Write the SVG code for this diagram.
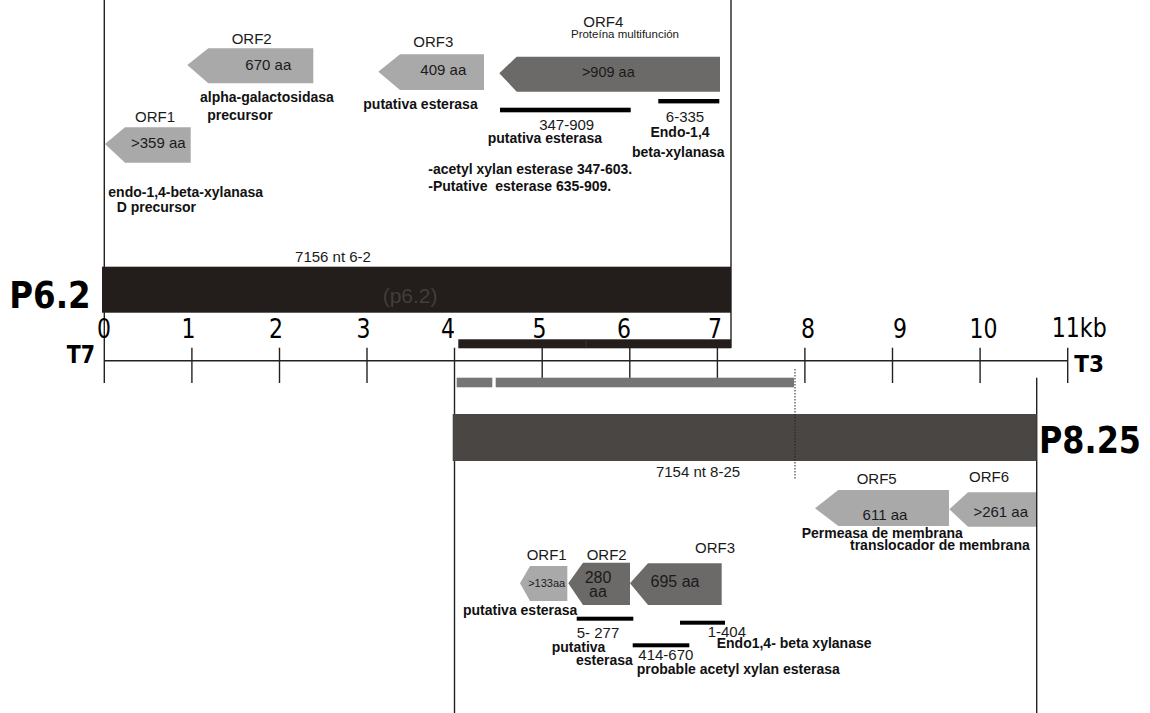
<svg xmlns="http://www.w3.org/2000/svg" width="1150" height="713" viewBox="0 0 1150 713">
<style>
.r{font-family:"Liberation Sans",Arial,sans-serif;fill:#1a1a1a}
.b{font-family:"Liberation Sans",Arial,sans-serif;font-weight:bold;fill:#111}
.big{font-family:"DejaVu Sans",Verdana,sans-serif;font-weight:bold;fill:#000}
.ax{font-family:"DejaVu Sans",Verdana,sans-serif;fill:#000;font-size:26px}
.m{text-anchor:middle}
.ln{stroke:#222;stroke-width:1.4;fill:none}
.light{fill:#a9a9a9}
.dark{fill:#6c6a69}
.bar{fill:#000}
</style>
<rect width="1150" height="713" fill="#fff"/>

<g id="connectors">
  <line class="ln" x1="104.3" y1="0" x2="104.3" y2="383"/>
  <line class="ln" x1="731" y1="0" x2="731" y2="348"/>
  <line class="ln" x1="104.3" y1="360.7" x2="1068" y2="360.7"/>
  <line class="ln" x1="454.5" y1="347.7" x2="454.5" y2="713"/>
  <line class="ln" x1="1036.7" y1="377.7" x2="1036.7" y2="713"/>
  <g class="ln">
    <line x1="191.9" y1="347.7" x2="191.9" y2="383"/>
    <line x1="279.5" y1="347.7" x2="279.5" y2="383"/>
    <line x1="367" y1="347.7" x2="367" y2="383"/>
    <line x1="542.2" y1="347.7" x2="542.2" y2="383"/>
    <line x1="629.8" y1="347.7" x2="629.8" y2="383"/>
    <line x1="717.4" y1="347.7" x2="717.4" y2="383"/>
    <line x1="804.9" y1="347.7" x2="804.9" y2="383"/>
    <line x1="892.5" y1="347.7" x2="892.5" y2="383"/>
    <line x1="980.1" y1="347.7" x2="980.1" y2="383"/>
    <line x1="1067.7" y1="347.7" x2="1067.7" y2="383"/>
  </g>
</g>

<g id="clone-p62">
  <rect x="102" y="266.7" width="629" height="46" fill="#231d1b"/>
  <text class="r" x="333" y="262" font-size="15" text-anchor="middle">7156 nt 6-2</text>
  <text x="382.7" y="303.3" font-size="21" font-family="Liberation Sans,Arial,sans-serif" fill="#443c3a">(p6.2)</text>
  <text class="big" x="9.3" y="308.3" font-size="38" textLength="81.4" lengthAdjust="spacingAndGlyphs">P6.2</text>
</g>

<g id="axis-labels">
  <text class="ax m" x="104" y="338.3" textLength="14" lengthAdjust="spacingAndGlyphs">0</text>
  <text class="ax m" x="188.5" y="338.3" textLength="14" lengthAdjust="spacingAndGlyphs">1</text>
  <text class="ax m" x="276" y="338.3" textLength="14" lengthAdjust="spacingAndGlyphs">2</text>
  <text class="ax m" x="363.5" y="338.3" textLength="14" lengthAdjust="spacingAndGlyphs">3</text>
  <text class="ax m" x="448" y="338.3" textLength="14" lengthAdjust="spacingAndGlyphs">4</text>
  <text class="ax m" x="539.5" y="338.3" textLength="14" lengthAdjust="spacingAndGlyphs">5</text>
  <text class="ax m" x="624" y="338.3" textLength="14" lengthAdjust="spacingAndGlyphs">6</text>
  <text class="ax m" x="715" y="338.3" textLength="14" lengthAdjust="spacingAndGlyphs">7</text>
  <text class="ax m" x="808" y="338.3" textLength="14" lengthAdjust="spacingAndGlyphs">8</text>
  <text class="ax m" x="900" y="338.3" textLength="14" lengthAdjust="spacingAndGlyphs">9</text>
  <text class="ax m" x="983.5" y="338.3" textLength="28" lengthAdjust="spacingAndGlyphs">10</text>
  <text class="ax" x="1051.7" y="337" textLength="55" lengthAdjust="spacingAndGlyphs">11kb</text>
  <text class="big" x="66.7" y="363.3" font-size="24" textLength="28.3" lengthAdjust="spacingAndGlyphs">T7</text>
  <text class="big" x="1074.3" y="371.7" font-size="23" textLength="29.7" lengthAdjust="spacingAndGlyphs">T3</text>
</g>

<g id="seq-bars">
  <rect x="458.3" y="339.3" width="272.7" height="9" fill="#231d1b"/>
  <line x1="586" y1="339.3" x2="586" y2="348.3" stroke="#3d3836" stroke-width="0.8"/>
  <rect x="456.7" y="377.7" width="35.6" height="9.6" fill="#777574"/>
  <rect x="495.7" y="377.7" width="298.3" height="9.6" fill="#777574"/>
</g>

<g id="clone-p825">
  <rect x="452.7" y="414" width="584" height="47" fill="#4a4644"/>
  <line x1="795" y1="369" x2="795" y2="479" stroke="#222" stroke-width="1" stroke-dasharray="1.5,1.5"/>
  <text class="r" x="698" y="477" font-size="15" text-anchor="middle">7154 nt 8-25</text>
  <text class="big" x="1039" y="453.3" font-size="37" textLength="102" lengthAdjust="spacingAndGlyphs">P8.25</text>
</g>

<g id="p62-orf1">
  <polygon class="light" points="105,144 125,127.3 190.7,127.3 190.7,162.7 125,162.7"/>
  <text class="r m" x="155" y="121.7" font-size="15">ORF1</text>
  <text class="r m" x="158.3" y="148.3" font-size="15">&gt;359 aa</text>
  <text class="b" x="108.3" y="196.7" font-size="14">endo-1,4-beta-xylanasa</text>
  <text class="b" x="116.7" y="211.7" font-size="14">D precursor</text>
</g>

<g id="p62-orf2">
  <polygon class="light" points="187.3,65 208.3,48.3 313.3,48.3 313.3,83.3 208.3,83.3"/>
  <text class="r m" x="251.7" y="44" font-size="15">ORF2</text>
  <text class="r m" x="268.3" y="70" font-size="15">670 aa</text>
  <text class="b" x="200" y="101.7" font-size="14">alpha-galactosidasa</text>
  <text class="b" x="207.3" y="120" font-size="14">precursor</text>
</g>

<g id="p62-orf3">
  <polygon class="light" points="378.3,71.7 400,54.3 484,54.3 484,90 400,90"/>
  <text class="r m" x="433.3" y="47.3" font-size="15">ORF3</text>
  <text class="r m" x="443.3" y="75" font-size="15">409 aa</text>
  <text class="b" x="363.3" y="109.3" font-size="14">putativa esterasa</text>
</g>

<g id="p62-orf4">
  <polygon class="dark" points="499.3,73.3 516.7,56.7 720,56.7 720,91.7 516.7,91.7"/>
  <text class="r m" x="603.3" y="26.5" font-size="15">ORF4</text>
  <text class="r m" x="625" y="38" font-size="11.5">Proteína multifunción</text>
  <text class="r m" x="608.3" y="77.3" font-size="14.5">&gt;909 aa</text>
  <rect class="bar" x="500" y="107.7" width="130.7" height="4.6"/>
  <rect class="bar" x="658.3" y="99" width="61" height="4.4"/>
  <text class="r m" x="566.7" y="130" font-size="15">347-909</text>
  <text class="b" x="487.7" y="143.3" font-size="14">putativa esterasa</text>
  <text class="r m" x="685" y="121.7" font-size="15">6-335</text>
  <text class="b m" x="680" y="137.3" font-size="14">Endo-1,4</text>
  <text class="b m" x="678.3" y="156.7" font-size="14">beta-xylanasa</text>
  <text class="b" x="428.3" y="174" font-size="14">-acetyl xylan esterase 347-603.</text>
  <text class="b" x="428.3" y="190.7" font-size="14" xml:space="preserve">-Putative  esterase 635-909.</text>
</g>

<g id="p825-orf5">
  <polygon class="light" points="815,508.3 838.3,490 949,490 949,526 838.3,526"/>
  <text class="r m" x="876.7" y="484" font-size="15">ORF5</text>
  <text class="r m" x="885" y="520" font-size="15">611 aa</text>
  <text class="b" x="801.7" y="538.3" font-size="14">Permeasa de membrana</text>
</g>

<g id="p825-orf6">
  <polygon class="light" points="949.3,509.3 968,492.3 1036,492.3 1036,526.7 968,526.7"/>
  <text class="r m" x="989" y="482.3" font-size="15">ORF6</text>
  <text class="r m" x="1000.7" y="517.3" font-size="15">&gt;261 aa</text>
  <text class="b" x="850" y="550" font-size="14">translocador de membrana</text>
</g>

<g id="p825-orf1">
  <polygon class="light" points="520,583.3 530,566 567.3,566 567.3,601 530,601"/>
  <text class="r m" x="546.7" y="560" font-size="15">ORF1</text>
  <text class="r m" x="546.7" y="587" font-size="11">&gt;133aa</text>
  <text class="b" x="463" y="615" font-size="14">putativa esterasa</text>
</g>

<g id="p825-orf2">
  <polygon class="dark" points="568.3,583.3 583,562.7 630,562.7 630,605 583,605"/>
  <text class="r m" x="606.7" y="560" font-size="15">ORF2</text>
  <text class="r m" x="598" y="583.3" font-size="16" fill="#222">280</text>
  <text class="r m" x="598" y="596.7" font-size="16" fill="#222">aa</text>
  <rect class="bar" x="576.7" y="616.7" width="56.6" height="4"/>
  <text class="r" x="576.7" y="638.3" font-size="15">5- 277</text>
  <text class="b" x="551.7" y="651.7" font-size="14">putativa</text>
  <text class="b" x="576" y="665" font-size="14">esterasa</text>
</g>

<g id="p825-orf3">
  <polygon class="dark" points="630,583.3 648,563.3 721.7,563.3 721.7,605 648,605"/>
  <text class="r m" x="715" y="553" font-size="15">ORF3</text>
  <text class="r m" x="675" y="586.7" font-size="16" fill="#222">695 aa</text>
  <rect class="bar" x="680" y="620.7" width="45" height="4"/>
  <rect class="bar" x="632.7" y="643.3" width="56.6" height="4"/>
  <text class="r" x="707.7" y="637.3" font-size="15">1-404</text>
  <text class="b" x="716.7" y="648.3" font-size="14">Endo1,4- beta xylanase</text>
  <text class="r" x="638.3" y="660" font-size="15">414-670</text>
  <text class="b" x="636.7" y="674" font-size="14">probable acetyl xylan esterasa</text>
</g>
</svg>
